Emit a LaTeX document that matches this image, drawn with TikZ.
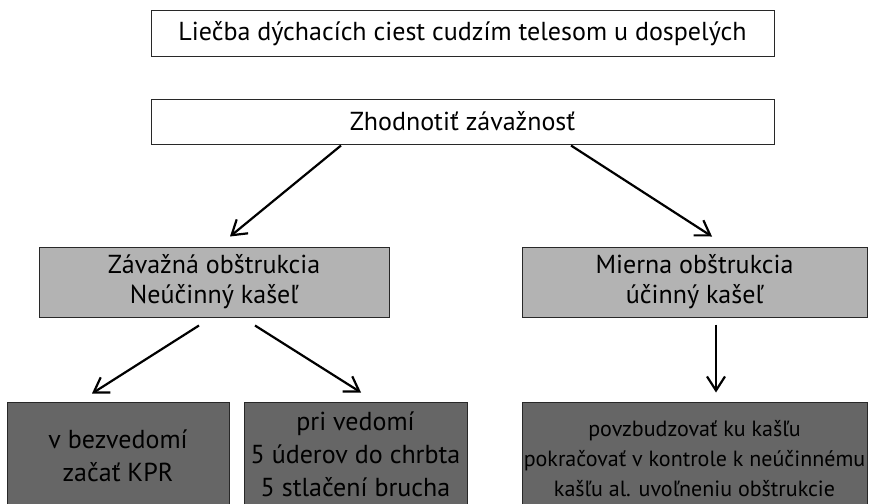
\documentclass[tikz,border=0pt]{standalone}
\usepackage{fontspec}
\setmainfont{PT Sans}
\usetikzlibrary{arrows.meta}
\definecolor{lightbox}{RGB}{179,179,179}
\definecolor{darkbox}{RGB}{102,102,102}
\definecolor{edge}{RGB}{40,40,40}
\begin{document}
\begin{tikzpicture}[x=1pt,y=-1pt,
  box/.style={draw=edge, line width=1pt, inner sep=0pt, align=center, font=\fontsize{26}{30}\selectfont},
  whitebox/.style={box, fill=white},
  graybox/.style={box, fill=lightbox},
  darkbx/.style={box, fill=darkbox, font=\fontsize{26}{33}\selectfont},
  arr/.style={line width=2.2pt, -{Straight Barb[length=14pt,width=18pt,line width=2.2pt]}}]
\clip (0,0) rectangle (869,503);
\useasboundingbox (0,0) rectangle (869,503);
\node[whitebox, minimum width=623pt, minimum height=46pt] (t) at (462.5,34) {Liečba dýchacích ciest cudzím telesom u dospelých};
\node[whitebox, minimum width=623pt, minimum height=45pt] (z) at (462.5,121.5) {Zhodnotiť závažnosť};
\node[graybox, minimum width=350pt, minimum height=70pt] (g1) at (214,282) {Závažná obštrukcia\\Neúčinný kašeľ};
\node[graybox, minimum width=345pt, minimum height=70pt] (g2) at (694.5,282) {Mierna obštrukcia\\účinný kašeľ};
\node[darkbx, minimum width=222pt, minimum height=108pt] (d1) at (118,456) {v bezvedomí\\začať KPR};
\node[darkbx, minimum width=223pt, minimum height=104pt] (d2) at (355.5,454) {pri vedomí\\5 úderov do chrbta\\5 stlačení brucha};
\node[darkbx, minimum width=345pt, minimum height=114pt, font=\fontsize{22}{30}\selectfont] (d3) at (694.5,459) {povzbudzovať ku kašľu\\pokračovať v kontrole k neúčinnému\\kašľu al. uvoľneniu obštrukcie};
\draw[arr] ([xshift=-121.5pt,yshift=-1pt]z.south) -- ([xshift=16pt,yshift=10pt]g1.north);
\draw[arr] ([xshift=108.5pt,yshift=-1pt]z.south) -- ([xshift=17.5pt,yshift=10pt]g2.north);
\draw[arr] ([xshift=-15pt,yshift=-8pt]g1.south) -- ([xshift=-26pt,yshift=8pt]d1.north);
\draw[arr] ([xshift=41pt,yshift=-8pt]g1.south) -- ([xshift=5.5pt,yshift=9pt]d2.north);
\draw[arr] ([xshift=21.5pt,yshift=-7pt]g2.south) -- ([xshift=21.5pt,yshift=9pt]d3.north);
\end{tikzpicture}
\end{document}
